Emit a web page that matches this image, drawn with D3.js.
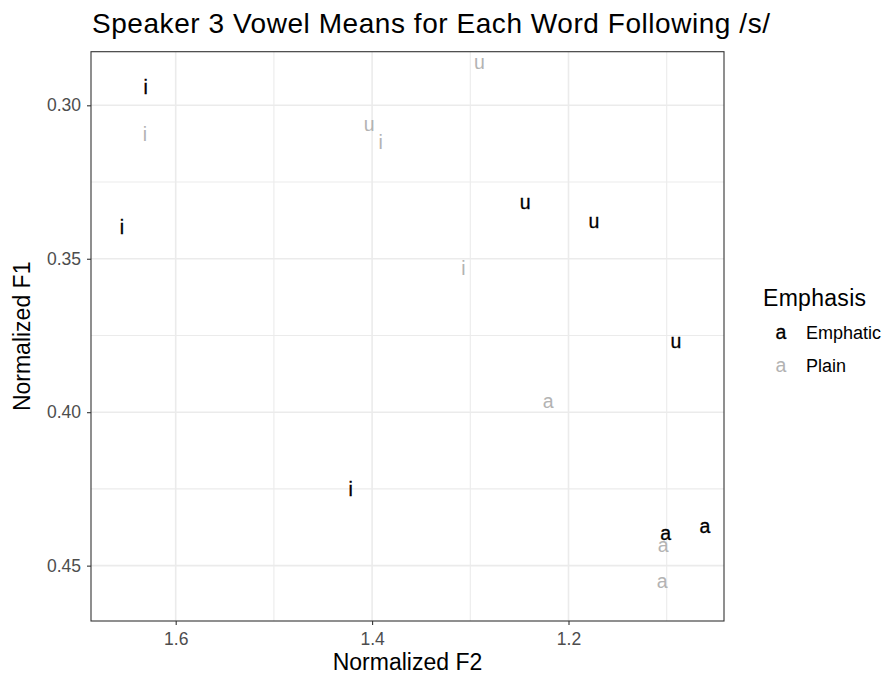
<!DOCTYPE html>
<html>
<head>
<meta charset="utf-8">
<script src="https://cdn.jsdelivr.net/npm/d3@7"></script>
<style>
  html, body { margin: 0; padding: 0; background: #fff; }
  svg { display: block; font-family: "Liberation Sans", Arial, Helvetica, sans-serif; }
</style>
</head>
<body>
<svg id="chart" width="886" height="677"></svg>
<script>
// Vowel means per word, speaker 3 (F2 on x, F1 on y, both axes reversed)
const emphaticVowels = ["i", "i", "u", "u", "u", "i", "a", "a"];
const emphaticF2 = [1.6306, 1.6547, 1.2440, 1.1740, 1.0905, 1.4218, 1.1010, 1.0610];
const emphaticF1 = [0.2940, 0.3396, 0.3317, 0.3376, 0.3767, 0.4252, 0.4395, 0.4370];

const plainVowels = ["i", "u", "u", "i", "i", "a", "a", "a"];
const plainF2 = [1.6313, 1.2908, 1.4029, 1.3912, 1.3071, 1.2206, 1.1035, 1.1045];
const plainF1 = [0.3094, 0.2858, 0.3062, 0.3119, 0.3531, 0.3964, 0.4433, 0.4552];

const groups = ["Emphatic", "Plain"];
const groupColors = ["#000000", "#b3b3b3"];

// Axis limits (reversed) and ticks
const f2Limits = [1.68625, 1.04165];
const f1Limits = [0.28253, 0.46804];
const f2MajorTicks = [1.6, 1.4, 1.2];
const f2MinorTicks = [1.5, 1.3, 1.1];
const f1MajorTicks = [0.30, 0.35, 0.40, 0.45];
const f1MinorTicks = [0.325, 0.375, 0.425];

const titleText = "Speaker 3 Vowel Means for Each Word Following /s/";
const xTitle = "Normalized F2";
const yTitle = "Normalized F1";
const legendTitle = "Emphasis";

// Layout
const panel = { left: 91, right: 724, top: 51.7, bottom: 621 };
const svg = d3.select("#chart");

const x = d3.scaleLinear().domain(f2Limits).range([panel.left, panel.right]);
const y = d3.scaleLinear().domain(f1Limits).range([panel.top, panel.bottom]);
const color = d3.scaleOrdinal().domain(groups).range(groupColors);
const weight = d3.scaleOrdinal().domain(groups).range([0.3, 0]);

// Panel background + grid
const grid = svg.append("g");
grid.append("rect")
  .attr("x", panel.left).attr("y", panel.top)
  .attr("width", panel.right - panel.left).attr("height", panel.bottom - panel.top)
  .attr("fill", "#fff");

grid.selectAll("line.vminor").data(f2MinorTicks).join("line")
  .attr("x1", d => x(d)).attr("x2", d => x(d))
  .attr("y1", panel.top).attr("y2", panel.bottom)
  .attr("stroke", "#ebebeb").attr("stroke-width", 1.1);
grid.selectAll("line.hminor").data(f1MinorTicks).join("line")
  .attr("y1", d => y(d)).attr("y2", d => y(d))
  .attr("x1", panel.left).attr("x2", panel.right)
  .attr("stroke", "#ebebeb").attr("stroke-width", 1.1);
grid.selectAll("line.vmajor").data(f2MajorTicks).join("line")
  .attr("x1", d => x(d)).attr("x2", d => x(d))
  .attr("y1", panel.top).attr("y2", panel.bottom)
  .attr("stroke", "#ebebeb").attr("stroke-width", 1.6);
grid.selectAll("line.hmajor").data(f1MajorTicks).join("line")
  .attr("y1", d => y(d)).attr("y2", d => y(d))
  .attr("x1", panel.left).attr("x2", panel.right)
  .attr("stroke", "#ebebeb").attr("stroke-width", 1.6);

// Vowel labels
const rows = [];
emphaticVowels.forEach((v, i) => rows.push({ vowel: v, f2: emphaticF2[i], f1: emphaticF1[i], group: "Emphatic" }));
plainVowels.forEach((v, i) => rows.push({ vowel: v, f2: plainF2[i], f1: plainF1[i], group: "Plain" }));

// plain first so emphatic letters sit on top
const drawOrder = rows.slice().sort((a, b) => (a.group === "Plain" ? -1 : 1) - (b.group === "Plain" ? -1 : 1));
svg.append("g").selectAll("text").data(drawOrder).join("text")
  .attr("x", d => x(d.f2))
  .attr("y", d => y(d.f1))
  .attr("dy", "0.35em")
  .attr("text-anchor", "middle")
  .attr("font-size", 19.5)
  .attr("fill", d => color(d.group))
  .attr("stroke", d => color(d.group))
  .attr("stroke-width", d => weight(d.group))
  .text(d => d.vowel);

// Panel border
svg.append("rect")
  .attr("x", panel.left).attr("y", panel.top)
  .attr("width", panel.right - panel.left).attr("height", panel.bottom - panel.top)
  .attr("fill", "none").attr("stroke", "#333333").attr("stroke-width", 1.1);

// Axes
const xAxis = d3.axisBottom(x).tickValues(f2MajorTicks).tickFormat(d3.format(".1f"))
  .tickSizeInner(4).tickSizeOuter(0).tickPadding(8);
const yAxis = d3.axisLeft(y).tickValues(f1MajorTicks).tickFormat(d3.format(".2f"))
  .tickSizeInner(4).tickSizeOuter(0).tickPadding(6);

const gx = svg.append("g").attr("transform", `translate(0,${panel.bottom})`).call(xAxis);
const gy = svg.append("g").attr("transform", `translate(${panel.left},0)`).call(yAxis);
[gx, gy].forEach(g => {
  g.select(".domain").remove();
  g.selectAll(".tick line").attr("stroke", "#333333").attr("stroke-width", 1.1);
  g.selectAll(".tick text").attr("fill", "#4d4d4d").attr("font-size", 17.5)
    .attr("font-family", "'Liberation Sans', Arial, Helvetica, sans-serif");
});

// Titles
svg.append("text")
  .attr("x", 92).attr("y", 33)
  .attr("font-size", 28).attr("letter-spacing", 0.55).attr("fill", "#000")
  .text(titleText);

svg.append("text")
  .attr("x", (panel.left + panel.right) / 2).attr("y", 670)
  .attr("text-anchor", "middle").attr("font-size", 23).attr("fill", "#000")
  .text(xTitle);

svg.append("text")
  .attr("transform", `translate(30,${(panel.top + panel.bottom) / 2}) rotate(-90)`)
  .attr("text-anchor", "middle").attr("font-size", 23).attr("fill", "#000")
  .text(yTitle);

// Legend
const legend = svg.append("g");
legend.append("text")
  .attr("x", 763).attr("y", 306)
  .attr("font-size", 23).attr("letter-spacing", 0.3).attr("fill", "#000")
  .text(legendTitle);

const keyRows = legend.selectAll("g.key").data(groups).join("g")
  .attr("transform", (d, i) => `translate(0,${338.5 + i * 33.3})`);
keyRows.append("text")
  .attr("x", 781).attr("y", 0)
  .attr("text-anchor", "middle").attr("font-size", 19.5)
  .attr("fill", d => color(d))
  .attr("stroke", d => color(d))
  .attr("stroke-width", d => weight(d))
  .text("a");
keyRows.append("text")
  .attr("x", 806).attr("y", 0)
  .attr("font-size", 18).attr("fill", "#000")
  .text(d => d);
</script>
</body>
</html>
